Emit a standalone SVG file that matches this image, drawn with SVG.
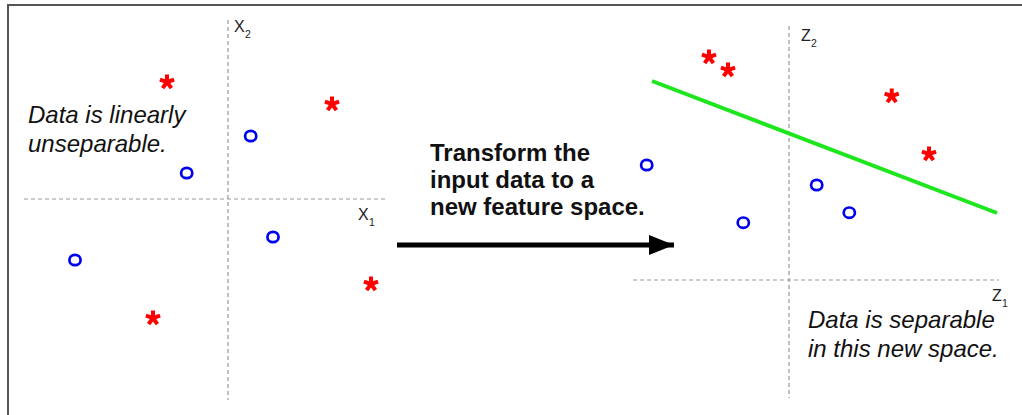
<svg xmlns="http://www.w3.org/2000/svg" xmlns:xlink="http://www.w3.org/1999/xlink" width="1022" height="415" viewBox="0 0 1022 415">
<style>
.frame{stroke:#555;stroke-width:2;fill:none}
.axis{stroke:#999;stroke-width:1.2;stroke-dasharray:4 3;fill:none}
.lbl{font-family:"Liberation Sans",Arial,sans-serif;font-size:16px;fill:#222}
.sub{font-family:"Liberation Sans",Arial,sans-serif;font-size:10.5px;fill:#222}
.note{font-family:"Liberation Sans",Arial,sans-serif;font-size:24px;font-style:italic;fill:#111}
.bold{font-family:"Liberation Sans",Arial,sans-serif;font-size:24px;font-weight:bold;fill:#111}
.o{fill:none;stroke:#0000ee;stroke-width:2.7}
</style>
<defs>
<g id="star" stroke="#ff0000" stroke-width="4" stroke-linecap="butt">
<line x1="0" y1="0" x2="0" y2="-7.5"/>
<line x1="0" y1="0" x2="7.1" y2="-2.3"/>
<line x1="0" y1="0" x2="4.4" y2="6.1"/>
<line x1="0" y1="0" x2="-4.4" y2="6.1"/>
<line x1="0" y1="0" x2="-7.1" y2="-2.3"/>
</g>
<marker id="ah" markerWidth="25" markerHeight="20" refX="25" refY="10" orient="auto" markerUnits="userSpaceOnUse">
<path d="M0,0 L25,10 L0,20 Z" fill="#000"/>
</marker>
</defs>
<rect width="1022" height="415" fill="#fff"/>
<path class="frame" d="M8,415 V5 H1022"/>

<g id="left-plot">
<line class="axis" x1="228" y1="20" x2="228" y2="400"/>
<line class="axis" x1="24" y1="199" x2="387" y2="199"/>
<text class="lbl" x="234" y="32">X</text><text class="sub" x="245" y="38">2</text>
<text class="lbl" x="358" y="220">X</text><text class="sub" x="369" y="226">1</text>
<use xlink:href="#star" x="167" y="82"/>
<use xlink:href="#star" x="332" y="104"/>
<use xlink:href="#star" x="371" y="284"/>
<use xlink:href="#star" x="153" y="318"/>
<ellipse class="o" cx="250.7" cy="136" rx="5.6" ry="5.2"/>
<ellipse class="o" cx="186.7" cy="173" rx="5.6" ry="5.2"/>
<ellipse class="o" cx="273" cy="237" rx="5.6" ry="5.2"/>
<ellipse class="o" cx="75" cy="260" rx="5.6" ry="5.2"/>
<text class="note" x="28" y="123">Data is linearly</text>
<text class="note" x="28" y="152">unseparable.</text>
</g>

<g id="transform">
<text class="bold" x="430" y="161">Transform the</text>
<text class="bold" x="430" y="188">input data to a</text>
<text class="bold" x="430" y="215">new feature space.</text>
</g>

<g id="connectors">
<line x1="397" y1="245" x2="674" y2="245" stroke="#000" stroke-width="5" marker-end="url(#ah)"/>
</g>

<g id="right-plot">
<line class="axis" x1="789" y1="26" x2="789" y2="398"/>
<line class="axis" x1="633" y1="280" x2="999" y2="280"/>
<text class="lbl" x="801" y="41">Z</text><text class="sub" x="811" y="47">2</text>
<text class="lbl" x="992" y="301">Z</text><text class="sub" x="1002" y="307">1</text>
<line x1="652" y1="81" x2="997" y2="213" stroke="#1de61d" stroke-width="4"/>
<use xlink:href="#star" x="709" y="57"/>
<use xlink:href="#star" x="728" y="70"/>
<use xlink:href="#star" x="891.7" y="96"/>
<use xlink:href="#star" x="929" y="154"/>
<ellipse class="o" cx="646.7" cy="165" rx="5.6" ry="5.2"/>
<ellipse class="o" cx="816.7" cy="185" rx="5.6" ry="5.2"/>
<ellipse class="o" cx="849.3" cy="212.7" rx="5.6" ry="5.2"/>
<ellipse class="o" cx="743.3" cy="222.7" rx="5.6" ry="5.2"/>
<text class="note" x="808" y="328">Data is separable</text>
<text class="note" x="808" y="357">in this new space.</text>
</g>
</svg>
